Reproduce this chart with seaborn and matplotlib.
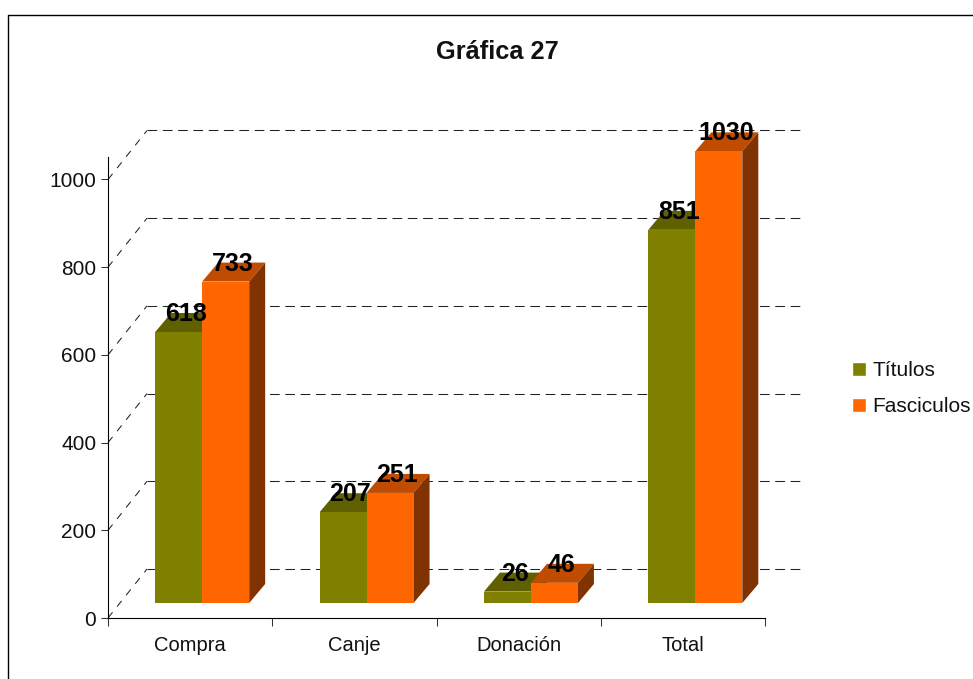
import numpy as np
import pandas as pd
import seaborn as sns
import matplotlib.pyplot as plt
from matplotlib.lines import Line2D
from matplotlib.patches import Polygon

categorias = ["Compra", "Canje", "Donación", "Total"]
titulos = [618, 207, 26, 851]
fasciculos = [733, 251, 46, 1030]
y_ticks = [0, 200, 400, 600, 800, 1000]

W, H = 973, 679
Y_MAX = 1051.3
sns.set_theme(style="white")
plt.rcParams["font.family"] = ["Liberation Sans", "DejaVu Sans"]

df = pd.DataFrame(
    {
        "categoria": categorias * 2,
        "serie": ["Títulos"] * 4 + ["Fasciculos"] * 4,
        "valor": titulos + fasciculos,
    }
)


def px_rect(left, bottom, right, top):
    return [left / W, 1 - bottom / H, (right - left) / W, (bottom - top) / H]


fig = plt.figure(figsize=(W / 100, H / 100), dpi=100, facecolor="white")

# axes + back wall
pos = (108, 618, 765.5, 157)
ax = fig.add_axes(px_rect(*pos))
ax.set_xlim(-0.5, 3.5)
ax.set_ylim(0, Y_MAX)
px_x = 4 / (pos[2] - pos[0])
px_y = Y_MAX / (pos[1] - pos[3])

ddx, ddy = 39 * px_x, 49 * px_y
for v in y_ticks:
    ax.plot([-0.5, -0.5 + ddx], [v, v + ddy], color="#222222", lw=0.75,
            dashes=(7, 7), clip_on=False, zorder=1)
    ax.plot([-0.5 + ddx, 3.5 + 35.5 * px_x], [v + ddy, v + ddy], color="#222222", lw=0.75,
            dashes=(9.3, 5.4), clip_on=False, zorder=1)

ax.set_yticks(y_ticks)
ax.set_xticks(range(4))
ax.set_xticklabels(categorias)
ax.set_xticks(np.arange(-0.5, 4, 1), minor=True)
ax.tick_params(axis="x", which="major", length=0, pad=13, labelsize=14.5, colors="#111111")
ax.tick_params(axis="x", which="minor", length=5.5, width=0.75, bottom=True, color="#333333")
ax.tick_params(axis="y", length=5, width=0.75, left=True, pad=3.5, labelsize=15,
               color="#333333", labelcolor="#111111")
for side in ["top", "right"]:
    ax.spines[side].set_visible(False)
for side in ["left", "bottom"]:
    ax.spines[side].set_color("black")
    ax.spines[side].set_linewidth(0.8)

# bars sit on a plane shifted into the box
ax_bar = fig.add_axes(px_rect(pos[0] + 12, pos[1] - 15, pos[2] + 12, pos[3] - 15))
ax_bar.patch.set_alpha(0)
sns.barplot(
    data=df, x="categoria", y="valor", hue="serie",
    palette=["#808000", "#FF6600"], width=94 / 164.4, gap=0, saturation=1,
    ax=ax_bar,
)
ax_bar.set_xlim(-0.5, 3.5)
ax_bar.set_ylim(0, Y_MAX)
ax_bar.axis("off")
handles, labels = ax_bar.get_legend_handles_labels()
ax_bar.get_legend().remove()

bar_dx, bar_dy = 16 * px_x, 19 * px_y
caras = [("#606000", "#404000"), ("#BF4C00", "#803300")]
for cont, (c_top, c_side) in zip(ax_bar.containers, caras):
    for rect in cont:
        rect.set_linewidth(0)
        rect.set_zorder(3)
        x0, x1 = rect.get_x(), rect.get_x() + rect.get_width()
        h = rect.get_height()
        ax_bar.add_patch(Polygon(
            [(x0, h), (x1, h), (x1 + bar_dx, h + bar_dy), (x0 + bar_dx, h + bar_dy)],
            facecolor=c_top, lw=0, zorder=2, clip_on=False))
        ax_bar.add_patch(Polygon(
            [(x1, 0), (x1 + bar_dx, bar_dy), (x1 + bar_dx, h + bar_dy), (x1, h)],
            facecolor=c_side, lw=0, zorder=2, clip_on=False))
        ax_bar.text((x0 + x1) / 2 + bar_dx * 0.45, h + bar_dy - px_y, f"{h:.0f}", ha="center", va="center",
                    fontsize=18, fontweight="bold", color="black", zorder=6, clip_on=False)

fig.legend(
    handles, labels, loc="upper left", bbox_to_anchor=(844 / W, 1 - 353 / H),
    frameon=False, fontsize=15, handlelength=0.67, handleheight=0.67,
    handletextpad=0.29, labelspacing=0.8, borderpad=0, borderaxespad=0.4,
    labelcolor="#111111",
)

fig.text(497.5 / W, 1 - 52 / H, "Gráfica 27", ha="center", va="center",
         fontsize=18.3, fontweight="bold", color="#111111")

# outer chart frame, runs off the image at right and bottom
fig.add_artist(Line2D([7.5 / W, 7.5 / W, 1], [0, 1 - 15 / H, 1 - 15 / H], color="black", lw=1))

fig.savefig("out.png", dpi=100, facecolor="white")
